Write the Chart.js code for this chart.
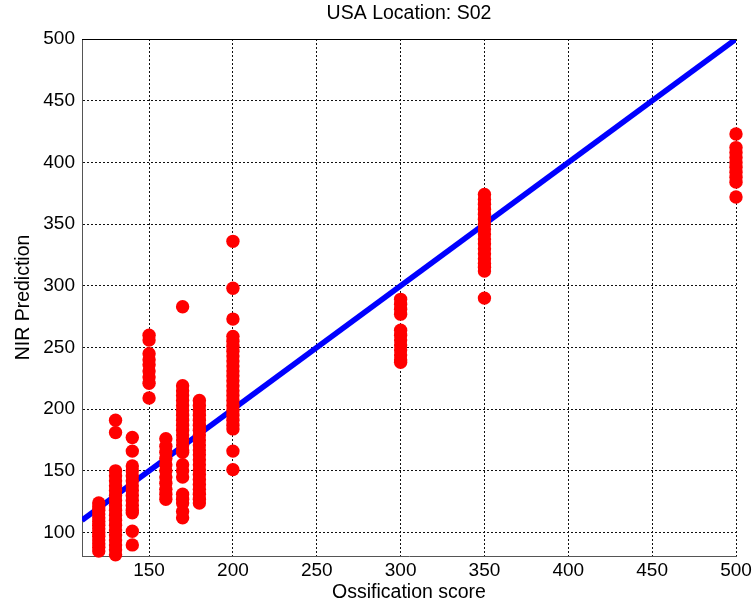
<!DOCTYPE html>
<html>
<head>
<meta charset="utf-8">
<script src="https://cdn.jsdelivr.net/npm/chart.js@4"></script>
<style>
  html, body { margin:0; padding:0; background:#fff; }
  #wrap { width:756px; height:609px; }
</style>
</head>
<body>
<div id="wrap"><canvas id="chart"></canvas></div>
<script>
// Datos: predicción NIR por cada puntuación de osificación
const scores = [120, 130, 140, 150, 160, 170, 180, 200, 300, 350, 500];
const y120 = [124,121,118,115,112,109,106,103,100,97,94,91,88,85];
const y130 = [191,181,150,146,142,138,134,130,126,122,118,114,110,106,102,98,94,90,86,82];
const y140 = [177,166,154,150,146,142,138,134,130,126,122,118,116,101,90];
const y150 = [260,256,245,240,236,231,226,221,209];
const y160 = [176,170,165,160,155,150,145,140,135,131,127];
const y170 = [283,219,215,211,207,203,199,195,191,187,183,179,175,171,167,165,155,150,145,131,127,124,117,112];
const y180 = [207,203,199,195,191,187,183,179,175,171,167,163,159,155,151,147,143,139,135,131,127,124];
const y200 = [336,298,273,259,255,251,247,243,239,235,231,227,223,219,215,211,207,203,199,195,191,187,184,166,151];
const y300 = [289,285,281,277,264,260,256,252,248,244,240,238];
const y350 = [374,370,366,362,358,354,350,346,342,338,334,330,326,322,318,315,312,290];
const y500 = [423,412,408,404,400,396,392,388,384,372];
const predByScore = [y120,y130,y140,y150,y160,y170,y180,y200,y300,y350,y500];

// Recta de referencia y = x
const lineX = [110, 500];

// Ejes
const xTicks = [150, 200, 250, 300, 350, 400, 450, 500];
const yTicks = [100, 150, 200, 250, 300, 350, 400, 450, 500];
const xRange = [110, 500];
const yRange = [81, 500];

const FONT = "'Liberation Sans', Arial, Helvetica, sans-serif";
Chart.defaults.font.family = FONT;
Chart.defaults.color = '#000';

const points = [];
scores.forEach((s, i) => predByScore[i].forEach(v => points.push({x:s, y:v})));

// borde superior sólido (estilo MATLAB)
const topBorder = {
  id:'topBorder',
  afterDraw(chart){
    const {ctx, chartArea:a} = chart;
    ctx.save();
    ctx.strokeStyle = '#000'; ctx.lineWidth = 1;
    ctx.beginPath(); ctx.moveTo(a.left, a.top + 0.5); ctx.lineTo(a.right, a.top + 0.5); ctx.stroke();
    ctx.restore();
  }
};

const gridOpts = { color:'#111', drawTicks:false };
const borderOpts = { display:true, color:'#555', width:1, dash:[2,2] };

new Chart(document.getElementById('chart').getContext('2d'), {
  type:'scatter',
  data:{ datasets:[
    { label:'NIR', data:points, backgroundColor:'#ff0000', borderWidth:0,
      pointRadius:6.7, pointHoverRadius:6.7, clip:false, order:0 },
    { label:'y=x', type:'line', data:lineX.map(v=>({x:v, y:v})), borderColor:'#0000ff',
      borderWidth:5.5, pointRadius:0, fill:false, order:1 }
  ]},
  options:{
    responsive:true, maintainAspectRatio:false, animation:false,
    layout:{ padding:{ left:0, right:20, top:0, bottom:0 } },
    plugins:{ legend:{ display:false }, tooltip:{ enabled:false }, title:{ display:false } },
    scales:{
      x:{
        type:'linear', min:xRange[0], max:xRange[1],
        afterBuildTicks: s => { s.ticks = xTicks.map(v=>({value:v})); },
        afterFit: s => { s.height = 53; },
        ticks:{ font:{ size:19 }, padding:3.6, maxRotation:0 },
        grid:gridOpts, border:borderOpts,
        title:{ display:true, text:'Ossification score', font:{ size:19.5 }, padding:{ top:0, bottom:4.3 } }
      },
      xTop:{
        type:'linear', position:'top', min:xRange[0], max:xRange[1],
        afterFit: s => { s.height = 39; },
        ticks:{ display:false },
        grid:{ display:false }, border:{ display:false },
        title:{ display:true, text:'USA Location: S02', font:{ size:19.5 }, padding:{ top:2.3, bottom:0 } }
      },
      y:{
        type:'linear', min:yRange[0], max:yRange[1],
        afterBuildTicks: s => { s.ticks = yTicks.map(v=>({value:v})); },
        afterFit: s => { s.width = 82; },
        ticks:{ font:{ size:19 }, padding:7 },
        grid:gridOpts, border:borderOpts,
        title:{ display:true, text:'NIR Prediction', font:{ size:19.5 }, padding:{ top:12.3, bottom:0 } }
      }
    }
  },
  plugins:[topBorder]
});
</script>
</body>
</html>
